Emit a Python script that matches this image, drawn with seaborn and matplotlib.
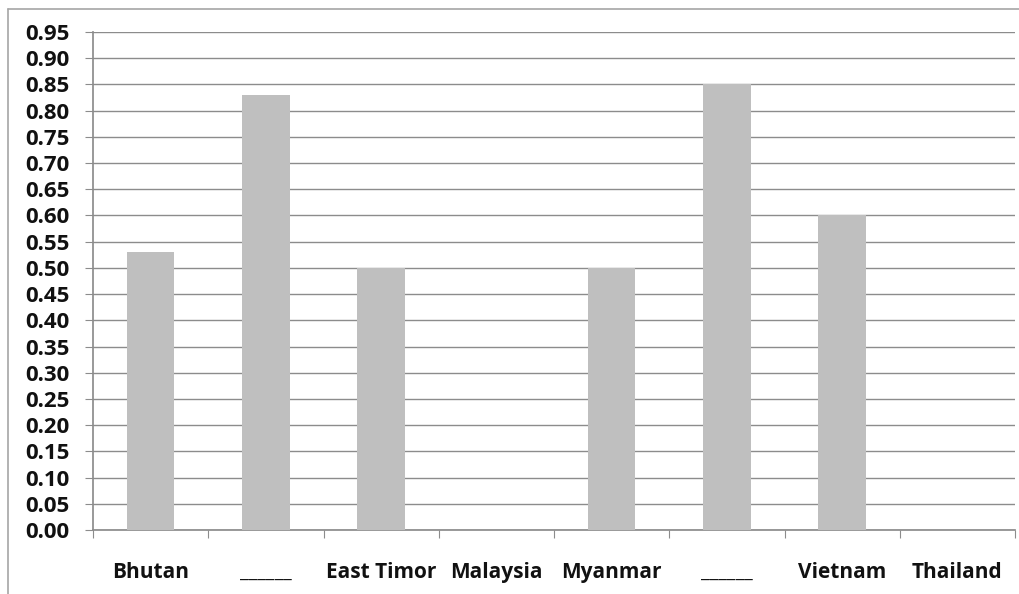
import matplotlib
matplotlib.use("Agg")
import matplotlib.pyplot as plt
from matplotlib.lines import Line2D
import numpy as np
import pandas as pd
import seaborn as sns

# Country scores (two entries have blanked-out names)
countries = ["Bhutan", "______", "East Timor", "Malaysia", "Myanmar", "______", "Vietnam", "Thailand"]
scores = [0.53, 0.83, 0.50, 0.0, 0.50, 0.85, 0.60, 0.0]
y_ticks = [round(0.05 * i, 2) for i in range(20)]

sns.set_theme(style="white")
plt.rcParams["font.family"] = ["Open Sans", "DejaVu Sans"]

df = pd.DataFrame({"slot": list(range(len(countries))), "score": scores})

fig = plt.figure(figsize=(10.19, 5.94), dpi=100)
ax = fig.add_axes([93 / 1019, (594 - 530) / 594, (1015 - 93) / 1019, (530 - 32) / 594])

sns.barplot(data=df, x="slot", y="score", order=list(range(len(countries))),
            color="#bfbfbf", saturation=1, width=0.41, linewidth=0, ax=ax, zorder=3)

ax.set_ylim(0, 0.95)
ax.set_xlim(-0.5, len(countries) - 0.5)
ax.set_yticks(y_ticks)
ax.set_yticklabels([f"{v:.2f}" for v in y_ticks], fontsize=16, fontweight="bold", color="#111111")
ax.yaxis.grid(True, color="#8c8c8c", linewidth=1.0, zorder=0)
ax.set_axisbelow(True)

# Category boundaries carry tick marks; names sit centered between them
ax.set_xticks(np.arange(-0.5, len(countries), 1.0))
ax.set_xticklabels([])
ax.set_xticks(np.arange(len(countries)), minor=True)
ax.set_xticklabels(countries, minor=True, fontsize=15, fontweight="bold", color="#111111")
ax.tick_params(axis="x", which="major", length=5.8, width=0.8, color="#8c8c8c", direction="out", bottom=True)
ax.tick_params(axis="x", which="minor", length=0, pad=23)
ax.tick_params(axis="y", length=5.8, width=0.8, color="#8c8c8c", direction="out", left=True, pad=11)

ax.set_xlabel("")
ax.set_ylabel("")
for side in ["top", "right"]:
    ax.spines[side].set_visible(False)
ax.spines["left"].set_color("#8c8c8c")
ax.spines["bottom"].set_color("#8c8c8c")

# Outer chart border (top and left edges)
fig.add_artist(Line2D([8 / 1019, 1.0], [1 - 9 / 594, 1 - 9 / 594], color="#a6a6a6", linewidth=1.2))
fig.add_artist(Line2D([8 / 1019, 8 / 1019], [0.0, 1 - 9 / 594], color="#a6a6a6", linewidth=1.2))

fig.savefig("out.png", dpi=100)
